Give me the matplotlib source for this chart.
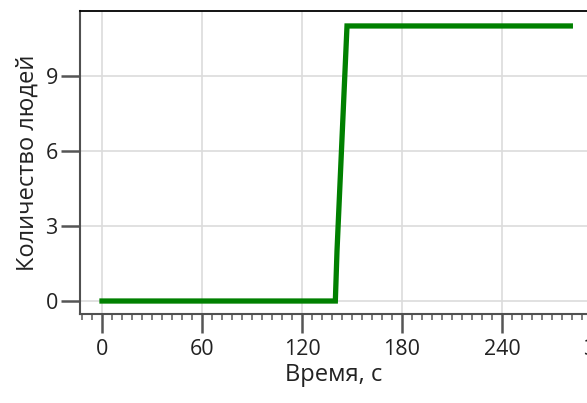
import matplotlib.pyplot as plt
import matplotlib.transforms as mtransforms
import numpy as np

plt.rcParams['font.family'] = ['Open Sans', 'DejaVu Sans']

t = [0, 140, 141, 143, 145, 147, 281]
people = [0, 0, 2, 5, 8, 11, 11]

xticks = [0, 60, 120, 180, 240, 300]
yticks = [0, 3, 6, 9]

fig = plt.figure(figsize=(5.87, 4.03), dpi=100)
ax = fig.add_axes([0.1363, 0.2208, 0.8637, 0.752])

ax.plot(t, people, color="#008000", linewidth=3.8, solid_joinstyle="miter")

ax.set_xticks(xticks)
ax.set_xticks(np.arange(-12, 300, 6), minor=True)
ax.set_yticks(yticks)
ax.set_xlim(-13.2, 291)
ax.set_ylim(-0.52, 11.6)
ax.grid(True, which="major", color="#dcdcdc", linewidth=1.2)
ax.set_axisbelow(True)

for s in ["left", "bottom"]:
    ax.spines[s].set_color("#505050")
    ax.spines[s].set_linewidth(1.5)
ax.spines["top"].set_color("black")
ax.spines["top"].set_linewidth(1.3)
ax.spines["right"].set_visible(False)

ax.tick_params(axis="y", length=14, width=1.8, color="#555555", labelsize=15.5,
               labelcolor="#222222", pad=2)
ax.tick_params(axis="x", which="major", length=14, width=1.8, color="#555555",
               labelsize=15.5, labelcolor="#222222", pad=4)
ax.tick_params(axis="x", which="minor", length=4, width=1.2, color="#666666")

# the last tick label sits past the right edge and is cut off by the figure
trans = mtransforms.blended_transform_factory(ax.transData, ax.transAxes)
ax.text(xticks[-1], 0, str(xticks[-1]), transform=trans, fontsize=15.5,
        color="#222222", ha="center", va="top", clip_on=False,
        bbox=None).set_transform(trans + mtransforms.ScaledTranslation(0, -18 / 72, fig.dpi_scale_trans))

ax.set_xlabel("Время, с", fontsize=17, color="#222222", labelpad=2)
ax.set_ylabel("Количество людей", fontsize=17, color="#222222", labelpad=4)

fig.savefig("out.png", dpi=100)
